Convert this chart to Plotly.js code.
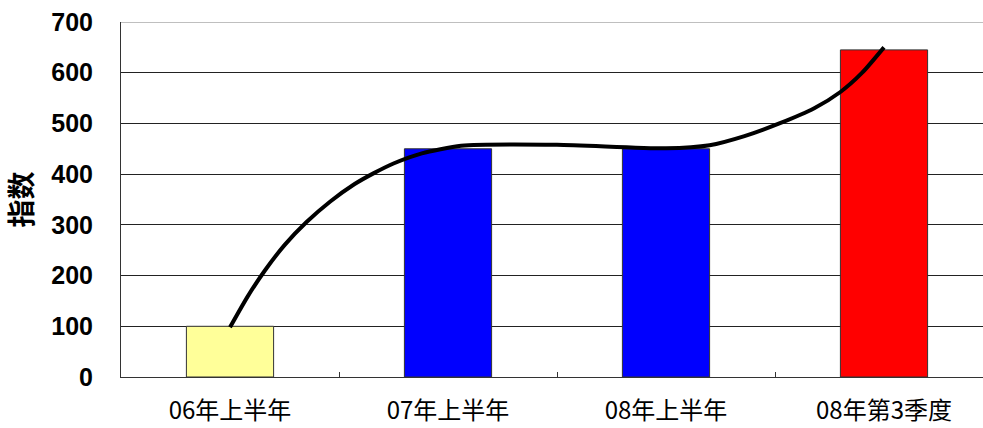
<!DOCTYPE html>
<html>
<head>
<meta charset="utf-8">
<script src="https://cdn.plot.ly/plotly-3.0.1.min.js"></script>
<style>
html,body{margin:0;padding:0;overflow:hidden;background:#fff;}
#chart{width:993px;height:428px;}
</style>
</head>
<body>
<div id="chart"></div>
<script>
const categories = ['06年上半年', '07年上半年', '08年上半年', '08年第3季度'];
const barValues = [100, 450, 450, 645];
const barColors = ['#FFFF99', '#0000FF', '#0000FF', '#FF0000'];
const yTicks = [0, 100, 200, 300, 400, 500, 600, 700];
// hand-drawn trend curve (position in category units, index value)
const curvePos = [0, 0.08, 0.16, 0.25, 0.35, 0.46, 0.57, 0.66, 0.75, 0.88, 1.06, 1.5, 2.0, 2.2, 2.36, 2.52, 2.68, 2.80, 2.90, 3.0];
const curveValues = [98, 158, 210, 260, 305, 346, 380, 402, 421, 441, 456, 458, 451, 457, 475, 500, 530, 562, 600, 650];

const traces = [
  {
    type: 'bar',
    x: categories,
    y: barValues,
    marker: {color: barColors, line: {color: '#333333', width: 1}},
    hoverinfo: 'skip'
  },
  {
    type: 'scatter',
    mode: 'lines',
    xaxis: 'x2',
    x: curvePos,
    y: curveValues,
    line: {color: '#000000', width: 4, shape: 'spline', smoothing: 0.6},
    hoverinfo: 'skip'
  }
];

const layout = {
  width: 993,
  height: 428,
  margin: {l: 121, r: 0, t: 22, b: 51},
  paper_bgcolor: '#ffffff',
  plot_bgcolor: '#ffffff',
  showlegend: false,
  bargap: 0.6,
  xaxis: {
    type: 'category',
    showline: true,
    linecolor: '#333333',
    linewidth: 1,
    ticks: 'inside',
    tickson: 'boundaries',
    ticklen: 5,
    tickcolor: '#333333',
    showgrid: false,
    ticklabelstandoff: 12,
    tickfont: {family: 'Noto Sans CJK SC', size: 24, color: '#000'}
  },
  xaxis2: {
    overlaying: 'x',
    range: [-0.5, 3.5],
    visible: false
  },
  yaxis: {
    range: [0, 700],
    tickvals: yTicks,
    showline: true,
    linecolor: '#333333',
    linewidth: 1,
    ticks: '',
    showgrid: true,
    gridcolor: '#222222',
    gridwidth: 1,
    zeroline: false,
    ticklabelstandoff: 22,
    tickfont: {family: 'Liberation Sans', size: 25, color: '#000', weight: 'bold'},
    title: {text: '指数', standoff: 20, font: {family: 'Noto Sans CJK SC', size: 28, color: '#000', weight: 'bold'}}
  },
  shapes: [
    {type: 'line', xref: 'paper', yref: 'y', x0: 0, x1: 1, y0: 700, y1: 700, line: {color: '#aaaaaa', width: 1.5}, layer: 'above'}
  ]
};

Plotly.newPlot('chart', traces, layout, {displayModeBar: false, staticPlot: true});
</script>
</body>
</html>
